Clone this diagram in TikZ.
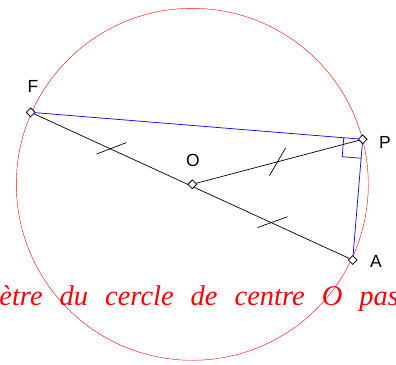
\documentclass[tikz,border=0pt]{standalone}
\usepackage{fontspec}
\setmainfont{Liberation Serif}
\setsansfont{Liberation Sans}
\usetikzlibrary{calc}

\begin{document}
\begin{tikzpicture}[
  x=1pt, y=-1pt,
  seg/.style={line width=0.7pt},
  sidec/.style={seg, draw=blue},
  tickm/.style={seg, draw=black},
  pnt/.style={draw=black, fill=white, rectangle, rotate=45, minimum size=6.2pt,
              inner sep=0pt, line width=0.8pt},
  lbl/.style={font=\sffamily\fontsize{17.5}{17.5}\selectfont, inner sep=0pt},
  captxt/.style={font=\itshape\fontsize{28.5}{28.5}\selectfont, text=red, inner sep=0pt},
]
\useasboundingbox (0,0) rectangle (396,364);

%% the four points
\coordinate (O) at (192.3,184.3);
\coordinate (F) at (30.7,112.3);
\coordinate (P) at (362.7,139.3);
\coordinate (A) at (352.7,260.0);

%% circle of centre O through F
\draw[red, line width=0.4pt] (O) circle[radius=176pt];

%% the diameter, the radius OP, and the triangle sides
\draw[seg] (F) -- (A);
\draw[seg] (O) -- (P);
\draw[sidec] (F) -- (P) -- (A);

%% right angle at P
\coordinate (r1) at ($(P)!19pt!(F)$);
\coordinate (r2) at ($(P)!19pt!(A)$);
\draw[sidec] (r1) -- ($(r1)+(r2)-(P)$) -- (r2);

%% equal-length marks
\foreach \s/\e in {F/O, O/P, O/A} {
  \coordinate (m) at ($(\s)!0.5!(\e)$);
  \draw[tickm] ($(m)!16pt!45:(\e)$) -- ($(m)!16pt!225:(\e)$);
}

%% point markers and names
\foreach \p in {O,F,P,A}
  \node[pnt] (d\p) at (\p) {};
\node[lbl] (lF) at (33,86)  {F};
\node[lbl] (lP) at (385,142) {P};
\node[lbl] (lO) at (193,160) {O};
\node[lbl] (lA) at (376,261) {A};

\node[captxt, anchor=base west] (txt) at (-57.8,305)
  {\spaceskip=17pt diamètre du cercle de centre O passant};
\end{tikzpicture}
\end{document}
